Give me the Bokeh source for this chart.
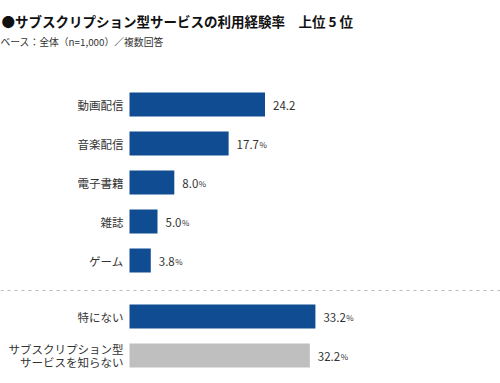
from bokeh.plotting import figure
from bokeh.models import Range1d, Span, Label, ColumnDataSource
from bokeh.core.properties import value
from bokeh.embed import file_html
from bokeh.resources import INLINE

title_text = "●サブスクリプション型サービスの利用経験率　上位 5 位"
subtitle_text = "ベース：全体（n=1,000）／複数回答"

categories = ["動画配信", "音楽配信", "電子書籍", "雑誌", "ゲーム", "特にない",
              "サブスクリプション型\nサービスを知らない"]
values = [24.2, 17.7, 8.0, 5.0, 3.8, 33.2, 32.2]
pct_marks = ["", "%", "%", "%", "%", "%", "%"]
bar_colors = ["#104c91"] * 6 + ["#bfbfbf"]

FONT = value("Noto Sans CJK JP")
W, H = 500, 383
SCALE = 5.6           # px per percent
X0 = 129              # px of zero line inside figure

# layout: row centres (px from top of figure)
row_y = [104, 143, 182, 221, 260, 316, 355]
sep_y = 290
LINE_GAP = 12.5

def num_width(s, fs):
    w = 0.0
    for ch in s:
        w += 0.27 * fs if ch == "." else 0.56 * fs
    return w

num_fs = 11.5
num_txt = [f"{v:.1f}" for v in values]
pct_off = [8 + num_width(t, num_fs) + 0.5 for t in num_txt]

src = ColumnDataSource(dict(cat=categories, val=values, y=row_y, color=bar_colors,
                            num=num_txt, pct=pct_marks, pct_off=pct_off,
                            zero=[0] * len(values)))

# split category labels into lines, each with its own vertical offset
lab_text, lab_y, lab_off = [], [], []
for c, y in zip(categories, row_y):
    lines = c.split("\n")
    n = len(lines)
    for i, ln in enumerate(lines):
        lab_text.append(ln)
        lab_y.append(y)
        lab_off.append((i - (n - 1) / 2) * LINE_GAP)
lab_src = ColumnDataSource(dict(text=lab_text, y=lab_y, off=lab_off,
                                zero=[0] * len(lab_text)))

p = figure(width=W, height=H, output_backend="svg", toolbar_location=None,
           x_range=Range1d(-X0 / SCALE, (W - X0) / SCALE),
           y_range=Range1d(H, 0), min_border=0, outline_line_color=None)
p.axis.visible = False
p.grid.visible = False
p.background_fill_color = "white"
p.border_fill_color = "white"

p.hbar(y="y", left="zero", right="val", height=24, fill_color="color",
       line_color=None, source=src)

p.text(x="zero", y="y", text="text", x_offset=-6, y_offset="off", text_align="right",
       text_baseline="middle", text_font=FONT, text_font_size="11.5px",
       text_color="#333333", source=lab_src)

p.text(x="val", y="y", text="num", x_offset=8, y_offset=0.5, text_align="left",
       text_baseline="alphabetic", text_font=FONT, text_font_size=f"{num_fs}px",
       text_color="#333333", source=src)
p.text(x="val", y="y", text="pct", x_offset="pct_off", y_offset=0.5, text_align="left",
       text_baseline="alphabetic", text_font=FONT, text_font_size="8px",
       text_color="#333333", source=src)

p.add_layout(Span(location=sep_y, dimension="width", line_color="#bbbbbb",
                  line_dash="3 4", line_width=1))

p.add_layout(Label(x=1, y=20, x_units="screen", y_units="data", text=title_text,
                   text_font="Noto Sans CJK JP", text_font_size="13.5px",
                   text_font_style="bold", text_color="#111111",
                   text_baseline="middle"))
p.add_layout(Label(x=0, y=41, x_units="screen", y_units="data", text=subtitle_text,
                   text_font="Noto Sans CJK JP", text_font_size="9.8px",
                   text_color="#333333", text_baseline="middle"))

open("out.html", "w").write(file_html(p, INLINE))
